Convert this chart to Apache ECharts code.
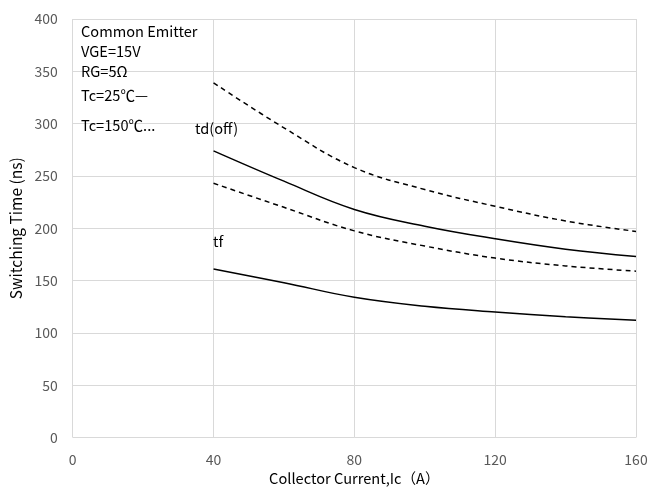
<!DOCTYPE html>
<html><head><meta charset="utf-8">
<script src="https://cdn.jsdelivr.net/npm/echarts@6/dist/echarts.min.js"></script>
<style>html,body{margin:0;padding:0;background:#fff}#c{width:660px;height:491px}</style>
</head><body><div id="c"></div>
<script>
var current = [40, 60, 80, 100, 120, 140, 160];
var tdoff150 = [339, 296, 258, 237, 221, 207, 197];
var tdoff25 = [274, 245, 218, 202, 190, 180, 173];
var tf150 = [243, 220, 197.5, 183, 171.5, 164, 159];
var tf25 = [161, 148, 134, 125.5, 120, 115.5, 112];
var xTicks = [0, 40, 80, 120, 160];
var yTicks = [0, 50, 100, 150, 200, 250, 300, 350, 400];
var notes = ['Common Emitter', 'VGE=15V', 'RG=5Ω', 'Tc=25℃—', 'Tc=150℃...'];

function pairs(ys){ return current.map(function(x,i){ return [x, ys[i]]; }); }
var FONT = '"Noto Sans CJK SC", "Noto Sans", sans-serif';
function line(name, ys, dashed){
  return {name:name, type:'line', data:pairs(ys), smooth:0.4, symbol:'none',
    lineStyle:{color:'#000', width:1.5, type: dashed ? [5,4] : 'solid'}};
}
var chart = echarts.init(document.getElementById('c'));
var ts = {fontSize:14.6, fill:'#000', fontFamily:FONT};
function t(txt, x, y){ return {type:'text', left:x, top:y, z:100, style:Object.assign({text:txt}, ts)}; }
chart.setOption({
  animation:false,
  grid:{left:69, right:24, top:19, bottom:52},
  textStyle:{fontFamily:FONT},
  xAxis:{type:'value', min:xTicks[0], max:xTicks[xTicks.length-1], interval:40,
    name:'Collector Current,Ic（A）', nameLocation:'middle', nameGap:33,
    nameTextStyle:{fontSize:14.6, color:'#000', fontFamily:FONT},
    axisLine:{show:false}, axisTick:{show:false},
    axisLabel:{fontSize:14, color:'#595959', margin:15, fontFamily:FONT},
    splitLine:{lineStyle:{color:'#d9d9d9', width:1}}},
  yAxis:{type:'value', min:yTicks[0], max:yTicks[yTicks.length-1], interval:50,
    name:'Switching Time (ns)', nameLocation:'middle', nameGap:36,
    nameTextStyle:{fontSize:15.5, color:'#000', fontFamily:FONT},
    axisLine:{show:false}, axisTick:{show:false},
    axisLabel:{fontSize:14, color:'#595959', margin:15, fontFamily:FONT},
    splitLine:{lineStyle:{color:'#d9d9d9', width:1}}},
  series:[
    line('td(off) Tc=150', tdoff150, true),
    line('td(off) Tc=25', tdoff25, false),
    line('tf Tc=150', tf150, true),
    line('tf Tc=25', tf25, false)
  ],
  graphic:[
    t(notes[0], 81, 24), t(notes[1], 81, 44), t(notes[2], 81, 64),
    t(notes[3], 81, 88), t(notes[4], 81, 118),
    t('td(off)', 195, 121), t('tf', 213, 234)
  ]
});
</script></body></html>
